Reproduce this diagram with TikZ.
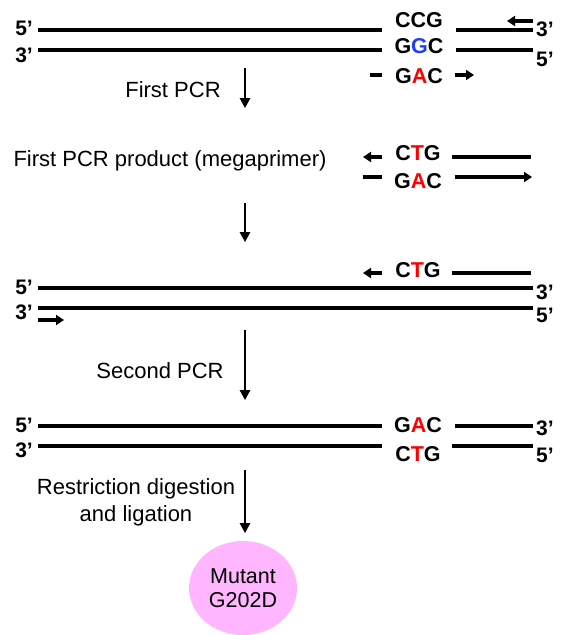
\documentclass[tikz,border=0pt]{standalone}
\usepackage{fontspec}
\setmainfont{Liberation Sans}
\usetikzlibrary{arrows.meta,shapes.geometric}
\definecolor{mutred}{RGB}{255,0,0}
\definecolor{wtblue}{RGB}{30,60,255}
\definecolor{bubble}{RGB}{255,182,255}
\begin{document}
\begin{tikzpicture}[x=1pt,y=-1pt,
  strand/.style={line width=3.8pt},
  primer/.style={line width=3.8pt,-{Triangle[length=8pt,width=10pt]}},
  stepflow/.style={line width=1.5pt,-{Triangle[length=10pt,width=10.5pt]}},
  endlbl/.style={font=\fontsize{21}{24}\selectfont\bfseries,inner sep=0pt},
  seq/.style={font=\fontsize{21.5}{24}\selectfont\bfseries,inner sep=0pt},
  caption/.style={font=\fontsize{22}{27}\selectfont,inner sep=0pt,anchor=base,align=center}]
\useasboundingbox (0,0) rectangle (560,635);

% ---------- template with primers ----------
\node[endlbl,anchor=east] (l5a) at (33,28) {5’};
\node[endlbl,anchor=east] (l3a) at (33,55) {3’};
\node[endlbl,anchor=west] (r3a) at (536,29) {3’};
\node[endlbl,anchor=west] (r5a) at (536,59) {5’};
\coordinate (a1) at (38,30);  \coordinate (a2) at (382,30);
\coordinate (a3) at (456,30); \coordinate (a4) at (533,30);
\coordinate (b1) at (38,50);  \coordinate (b2) at (382,50);
\coordinate (b3) at (456,50); \coordinate (b4) at (533,50);
\draw[strand] (a1) -- (a2) (a3) -- (a4) (b1) -- (b2) (b3) -- (b4);
\node[seq] (ccg) at (419,20) {CCG};
\node[seq] (ggc) at (419,46) {G\textcolor{wtblue}{G}C};
\node[seq] (gac1) at (419,76) {G\textcolor{mutred}{A}C};
\coordinate (pr1s) at (533,21); \coordinate (pr1e) at (507,21);
\draw[primer] (pr1s) -- (pr1e);
\coordinate (pm1s) at (370,75); \coordinate (pm1e) at (382,75);
\draw[strand] (pm1s) -- (pm1e);
\coordinate (pm2s) at (455,75); \coordinate (pm2e) at (474,75);
\draw[primer] (pm2s) -- (pm2e);

\node[caption] (firstpcr) at (173,97) {First PCR};
\coordinate (s1a) at (245,68); \coordinate (s1b) at (245,108);
\draw[stepflow] (s1a) -- (s1b);

% ---------- megaprimer ----------
\node[caption] (mega) at (170,166) {First PCR product (megaprimer)};
\node[seq] (ctg1) at (418,153) {C\textcolor{mutred}{T}G};
\node[seq] (gac2) at (418,181) {G\textcolor{mutred}{A}C};
\coordinate (m1s) at (382,157); \coordinate (m1e) at (363,157);
\draw[primer] (m1s) -- (m1e);
\coordinate (m2s) at (452,157); \coordinate (m2e) at (531,157);
\draw[strand] (m2s) -- (m2e);
\coordinate (m3s) at (363,177); \coordinate (m3e) at (382,177);
\draw[strand] (m3s) -- (m3e);
\coordinate (m4s) at (455,177); \coordinate (m4e) at (532,177);
\draw[primer] (m4s) -- (m4e);
\coordinate (s2a) at (245,203); \coordinate (s2b) at (245,242);
\draw[stepflow] (s2a) -- (s2b);

% ---------- template with megaprimer ----------
\node[seq] (ctg2) at (418,270) {C\textcolor{mutred}{T}G};
\coordinate (n1s) at (382,273); \coordinate (n1e) at (363,273);
\draw[primer] (n1s) -- (n1e);
\coordinate (n2s) at (452,273); \coordinate (n2e) at (531,273);
\draw[strand] (n2s) -- (n2e);
\node[endlbl,anchor=east] (l5b) at (33,287) {5’};
\node[endlbl,anchor=east] (l3b) at (33,312) {3’};
\node[endlbl,anchor=west] (r3b) at (536,292) {3’};
\node[endlbl,anchor=west] (r5b) at (536,315) {5’};
\coordinate (c1) at (38,288); \coordinate (c2) at (533,288);
\coordinate (d1) at (38,308); \coordinate (d2) at (533,308);
\draw[strand] (c1) -- (c2) (d1) -- (d2);
\coordinate (fps) at (38,320); \coordinate (fpe) at (64,320);
\draw[primer] (fps) -- (fpe);

\node[caption] (secondpcr) at (160,378) {Second PCR};
\coordinate (s3a) at (245,330); \coordinate (s3b) at (245,400);
\draw[stepflow] (s3a) -- (s3b);

% ---------- mutated product ----------
\node[endlbl,anchor=east] (l5c) at (33,425) {5’};
\node[endlbl,anchor=east] (l3c) at (33,450) {3’};
\node[endlbl,anchor=west] (r3c) at (536,428) {3’};
\node[endlbl,anchor=west] (r5c) at (536,455) {5’};
\coordinate (e1) at (38,426);  \coordinate (e2) at (382,426);
\coordinate (e3) at (455,426); \coordinate (e4) at (533,426);
\coordinate (f1) at (38,446);  \coordinate (f2) at (382,446);
\coordinate (f3) at (452,446); \coordinate (f4) at (533,446);
\draw[strand] (e1) -- (e2) (e3) -- (e4) (f1) -- (f2) (f3) -- (f4);
\node[seq] (gac3) at (418,425) {G\textcolor{mutred}{A}C};
\node[seq] (ctg3) at (418,454) {C\textcolor{mutred}{T}G};

% base anchor of a two-line caption sits on its last line
\node[caption] (digest) at (136,521) {Restriction digestion\\and ligation};
\coordinate (s4a) at (245,470); \coordinate (s4b) at (245,533);
\draw[stepflow] (s4a) -- (s4b);

\node[ellipse,fill=bubble,minimum width=108pt,minimum height=94pt,inner sep=0pt,
      align=center,font=\fontsize{21.5}{24}\selectfont] (mutant) at (243,588)
      {Mutant\\G202D};
\end{tikzpicture}
\end{document}
